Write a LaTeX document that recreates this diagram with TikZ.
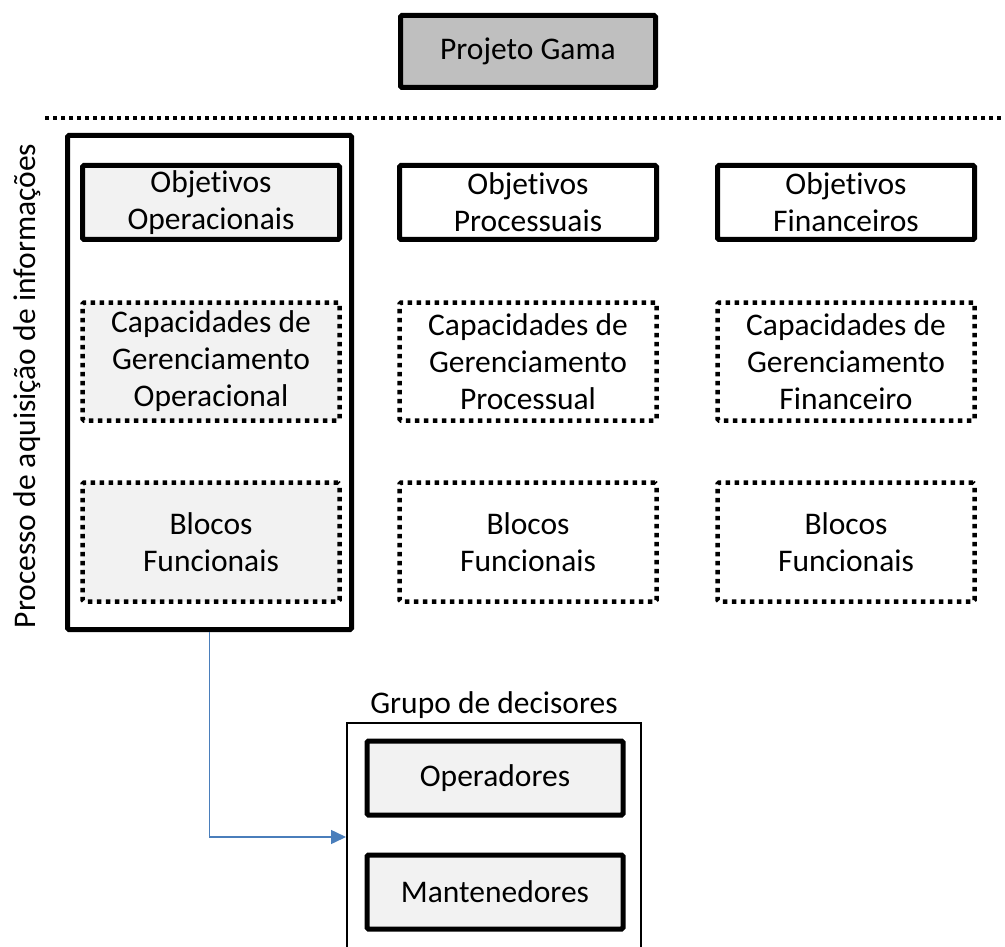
\documentclass[tikz,border=0pt]{standalone}
\usepackage{fontspec}
\setmainfont{Carlito}[Ligatures=NoCommon]
\usetikzlibrary{arrows.meta}
\definecolor{gamagray}{HTML}{BFBFBF}
\definecolor{lightfill}{HTML}{F2F2F2}
\definecolor{arrowblue}{HTML}{4A7EBB}
\newcommand{\boxfont}{\fontsize{31.5}{37}\selectfont}
\begin{document}
\begin{tikzpicture}[x=1pt,y=-1pt,
  box/.style={draw, line width=5pt, rounded corners=1.5pt, align=center, inner sep=0pt, font=\boxfont},
  dotbox/.style={box, line width=4.5pt, dash pattern=on 4.5pt off 4.5pt},
  objbox/.style={box, minimum width=257pt, minimum height=74pt},
  capbox/.style={dotbox, minimum width=257pt, minimum height=118pt},
  blocbox/.style={dotbox, minimum width=257pt, minimum height=119pt},
  decbox/.style={box, minimum width=256pt, minimum height=74pt, fill=lightfill},
  lbl/.style={font=\boxfont, inner sep=0pt},
  dotline/.style={line width=4pt, dash pattern=on 4pt off 4pt},
  link/.style={draw=arrowblue, line width=1.5pt, -{Triangle[length=15pt,width=14pt]}}
]
\clip (0,0) rectangle (1005,947);
\fill[white] (0,0) rectangle (1005,947);

\node[box, fill=gamagray, minimum width=255pt, minimum height=72pt] (gama) at (528,51.5) {Projeto Gama};

\coordinate (dl) at (45,118);
\coordinate (dr) at (1005,118);
\draw[dotline] (dl) -- (dr);

\node[box, minimum width=284pt, minimum height=494pt] (outer) at (209.5,382.5) {};

\node[objbox, fill=lightfill] (obj1) at (211,202.5) {Objetivos\\Operacionais};
\node[objbox] (obj2) at (528,202.5) {Objetivos\\Processuais};
\node[objbox] (obj3) at (846,202.5) {Objetivos\\Financeiros};

\node[capbox, fill=lightfill] (cap1) at (211,361.5) {Capacidades de\\Gerenciamento\\Operacional};
\node[capbox] (cap2) at (528,361.5) {Capacidades de\\Gerenciamento\\Processual};
\node[capbox] (cap3) at (846,361.5) {Capacidades de\\Gerenciamento\\Financeiro};

\node[blocbox, fill=lightfill] (bl1) at (211,542) {Blocos\\Funcionais};
\node[blocbox] (bl2) at (528,542) {Blocos\\Funcionais};
\node[blocbox] (bl3) at (846,542) {Blocos\\Funcionais};

\node[lbl, rotate=90] (proc) at (27,386) {Processo de aquisição de informações};

\node[lbl] (grp) at (494,705) {Grupo de decisores};
\node[draw, line width=2pt, minimum width=294pt, minimum height=228pt] (dec) at (494,837) {};
\node[decbox] (op) at (495,778) {Operadores};
\node[decbox] (man) at (495,892) {Mantenedores};

\draw[link] (outer.south) |- (dec.west);
\end{tikzpicture}
\end{document}
